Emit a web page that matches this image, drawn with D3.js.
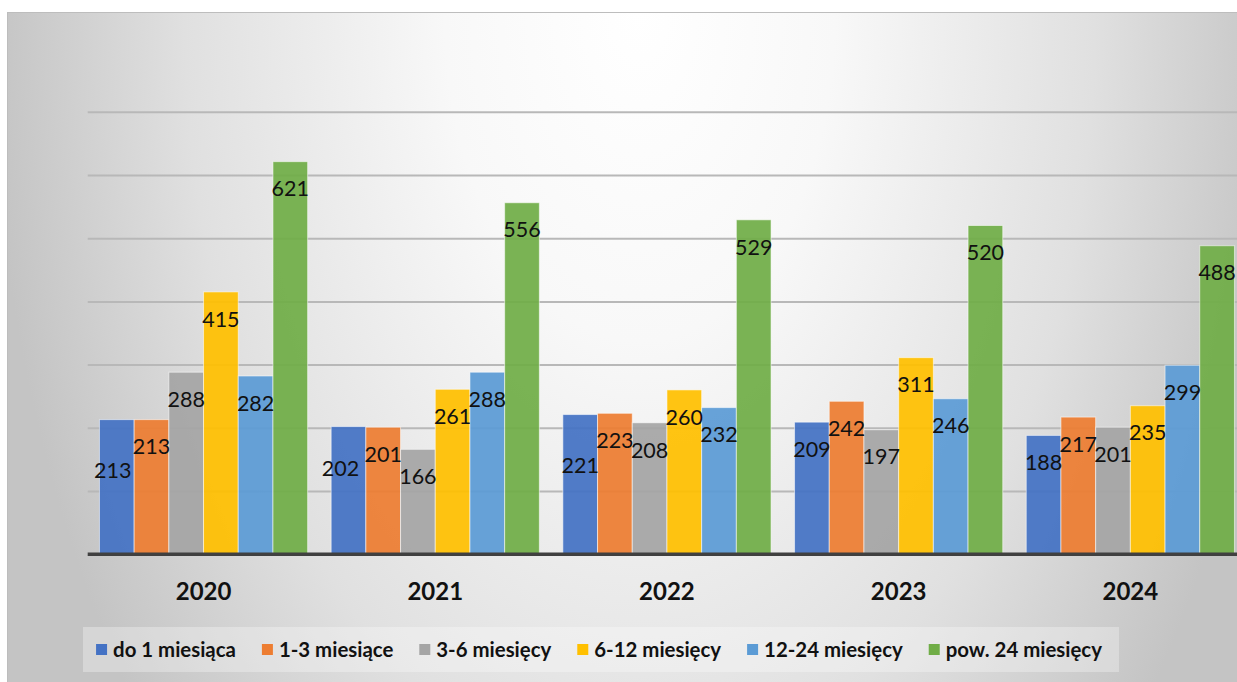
<!DOCTYPE html>
<html lang="pl">
<head>
<meta charset="utf-8">
<script src="https://cdn.jsdelivr.net/npm/d3@7/dist/d3.min.js"></script>
<style>
  html, body { margin: 0; padding: 0; background: #ffffff; }
  svg { display: block; }
</style>
</head>
<body>
<svg id="chart" width="1237" height="682"></svg>
<script>
// ---- data ----
const years = ["2020", "2021", "2022", "2023", "2024"];
const seriesNames = ["do 1 miesiąca", "1-3 miesiące", "3-6 miesięcy", "6-12 miesięcy", "12-24 miesięcy", "pow. 24 miesięcy"];
const do1 = [213, 202, 221, 209, 188];
const m1_3 = [213, 201, 223, 242, 217];
const m3_6 = [288, 166, 208, 197, 201];
const m6_12 = [415, 261, 260, 311, 235];
const m12_24 = [282, 288, 232, 246, 299];
const pow24 = [621, 556, 529, 520, 488];
const yTicks = [0, 100, 200, 300, 400, 500, 600, 700];
const seriesValues = [do1, m1_3, m3_6, m6_12, m12_24, pow24];

// ---- styles / layout ----
const colors = ["#4472C4", "#ED7D31", "#A5A5A5", "#FFC000", "#5B9BD5", "#70AD47"];
// manual label nudges (label moved by Excel to avoid overlap): [seriesIndex, yearIndex, dx, dy]
const labelNudges = [[0, 0, -4, 24], [0, 1, -8, 15], [0, 2, 0, 24]];

const svg = d3.select("#chart");
const W = 1237, H = 682;

const defs = svg.append("defs");
const grad = defs.append("radialGradient")
  .attr("id", "bg")
  .attr("gradientUnits", "userSpaceOnUse")
  .attr("cx", 640).attr("cy", 10).attr("r", 650)
  .attr("gradientTransform", "translate(640,10) scale(1,1.7) translate(-640,-10)");
grad.append("stop").attr("offset", 0).attr("stop-color", "#ffffff");
grad.append("stop").attr("offset", 0.3).attr("stop-color", "#f8f8f8");
grad.append("stop").attr("offset", 0.7).attr("stop-color", "#e0e0e0");
grad.append("stop").attr("offset", 1).attr("stop-color", "#c4c4c4");

// chart area
svg.append("rect")
  .attr("x", 7.5).attr("y", 12.5)
  .attr("width", W + 20).attr("height", H + 20)
  .attr("fill", "url(#bg)")
  .attr("stroke", "#bdbdbd").attr("stroke-width", 1);

const plotLeft = 87.7, step = 231.7;
const x0 = d3.scaleBand().domain(years)
  .range([plotLeft, plotLeft + step * years.length])
  .paddingInner(0).paddingOuter(0);
const gap = step - 6 * 34.7;
const x1 = d3.scaleBand().domain(d3.range(seriesNames.length))
  .range([gap / 2, step - gap / 2]).padding(0);
const y = d3.scaleLinear().domain([0, 700]).range([554.3, 111.7]);

// gridlines
const yAxis = d3.axisLeft(y).tickValues(yTicks.slice(1))
  .tickSize(-(W + 20 - plotLeft)).tickFormat("");
const gy = svg.append("g").attr("transform", `translate(${plotLeft},0)`).call(yAxis);
gy.select(".domain").remove();
gy.selectAll(".tick line").attr("stroke", "#b8b8b8").attr("stroke-width", 2);

// bars
const groups = svg.append("g").selectAll("g")
  .data(years).join("g")
  .attr("transform", d => `translate(${x0(d)},0)`);

groups.selectAll("rect")
  .data((yr, yi) => seriesValues.map((vals, si) => ({ si, yi, v: vals[yi] })))
  .join("rect")
  .attr("x", d => x1(d.si))
  .attr("y", d => y(d.v))
  .attr("width", x1.bandwidth())
  .attr("height", d => y(0) - y(d.v))
  .attr("fill", d => colors[d.si])
  .attr("fill-opacity", 0.93)
  .attr("stroke", "#ffffff")
  .attr("stroke-opacity", 0.55)
  .attr("stroke-width", 1);

// data labels (inside end)
groups.selectAll("text")
  .data((yr, yi) => seriesValues.map((vals, si) => ({ si, yi, v: vals[yi] })))
  .join("text")
  .attr("x", d => {
    const n = labelNudges.find(a => a[0] === d.si && a[1] === d.yi);
    return x1(d.si) + x1.bandwidth() / 2 + (n ? n[2] : 0);
  })
  .attr("y", d => {
    const n = labelNudges.find(a => a[0] === d.si && a[1] === d.yi);
    return y(d.v) + 27 + (n ? n[3] : 0);
  })
  .attr("dy", "0.36em")
  .attr("text-anchor", "middle")
  .attr("font-family", "Lato, 'Open Sans', sans-serif")
  .attr("font-size", 21.5)
  .attr("fill", "#111111")
  .text(d => d.v);

// baseline / category axis
const xAxis = d3.axisBottom(x0).tickSize(0).tickPadding(0);
const gx = svg.append("g").attr("transform", `translate(0,${y(0)})`).call(xAxis);
gx.select(".domain").attr("stroke", "#404040").attr("stroke-width", 3.5)
  .attr("d", `M${plotLeft},0H${W + 20}`);
gx.selectAll(".tick text")
  .attr("y", 37).attr("dy", "0.36em")
  .attr("font-family", "Lato, 'Open Sans', sans-serif")
  .attr("font-weight", "bold")
  .attr("font-size", 24)
  .attr("fill", "#111111");

// legend
svg.append("rect")
  .attr("x", 83).attr("y", 627).attr("width", 1036).attr("height", 45)
  .attr("fill", "#ffffff").attr("fill-opacity", 0.3);
const lg = svg.append("g");
const items = lg.selectAll("g").data(seriesNames).join("g");
items.append("rect")
  .attr("width", 11).attr("height", 11).attr("y", -6)
  .attr("fill", (d, i) => colors[i]);
items.append("text")
  .attr("x", 17).attr("dy", "0.36em")
  .attr("font-family", "Lato, 'Open Sans', sans-serif")
  .attr("font-weight", "bold")
  .attr("font-size", 20.4)
  .attr("fill", "#111111")
  .text(d => d);
let cx = 0;
const itemGap = 26;
const offsets = [];
items.each(function () {
  const tw = d3.select(this).select("text").node().getComputedTextLength();
  offsets.push(cx);
  cx += 17 + tw + itemGap;
});
const totalW = cx - itemGap;
const startX = 599 - totalW / 2;
items.attr("transform", (d, i) => `translate(${startX + offsets[i]},650)`);
</script>
</body>
</html>
